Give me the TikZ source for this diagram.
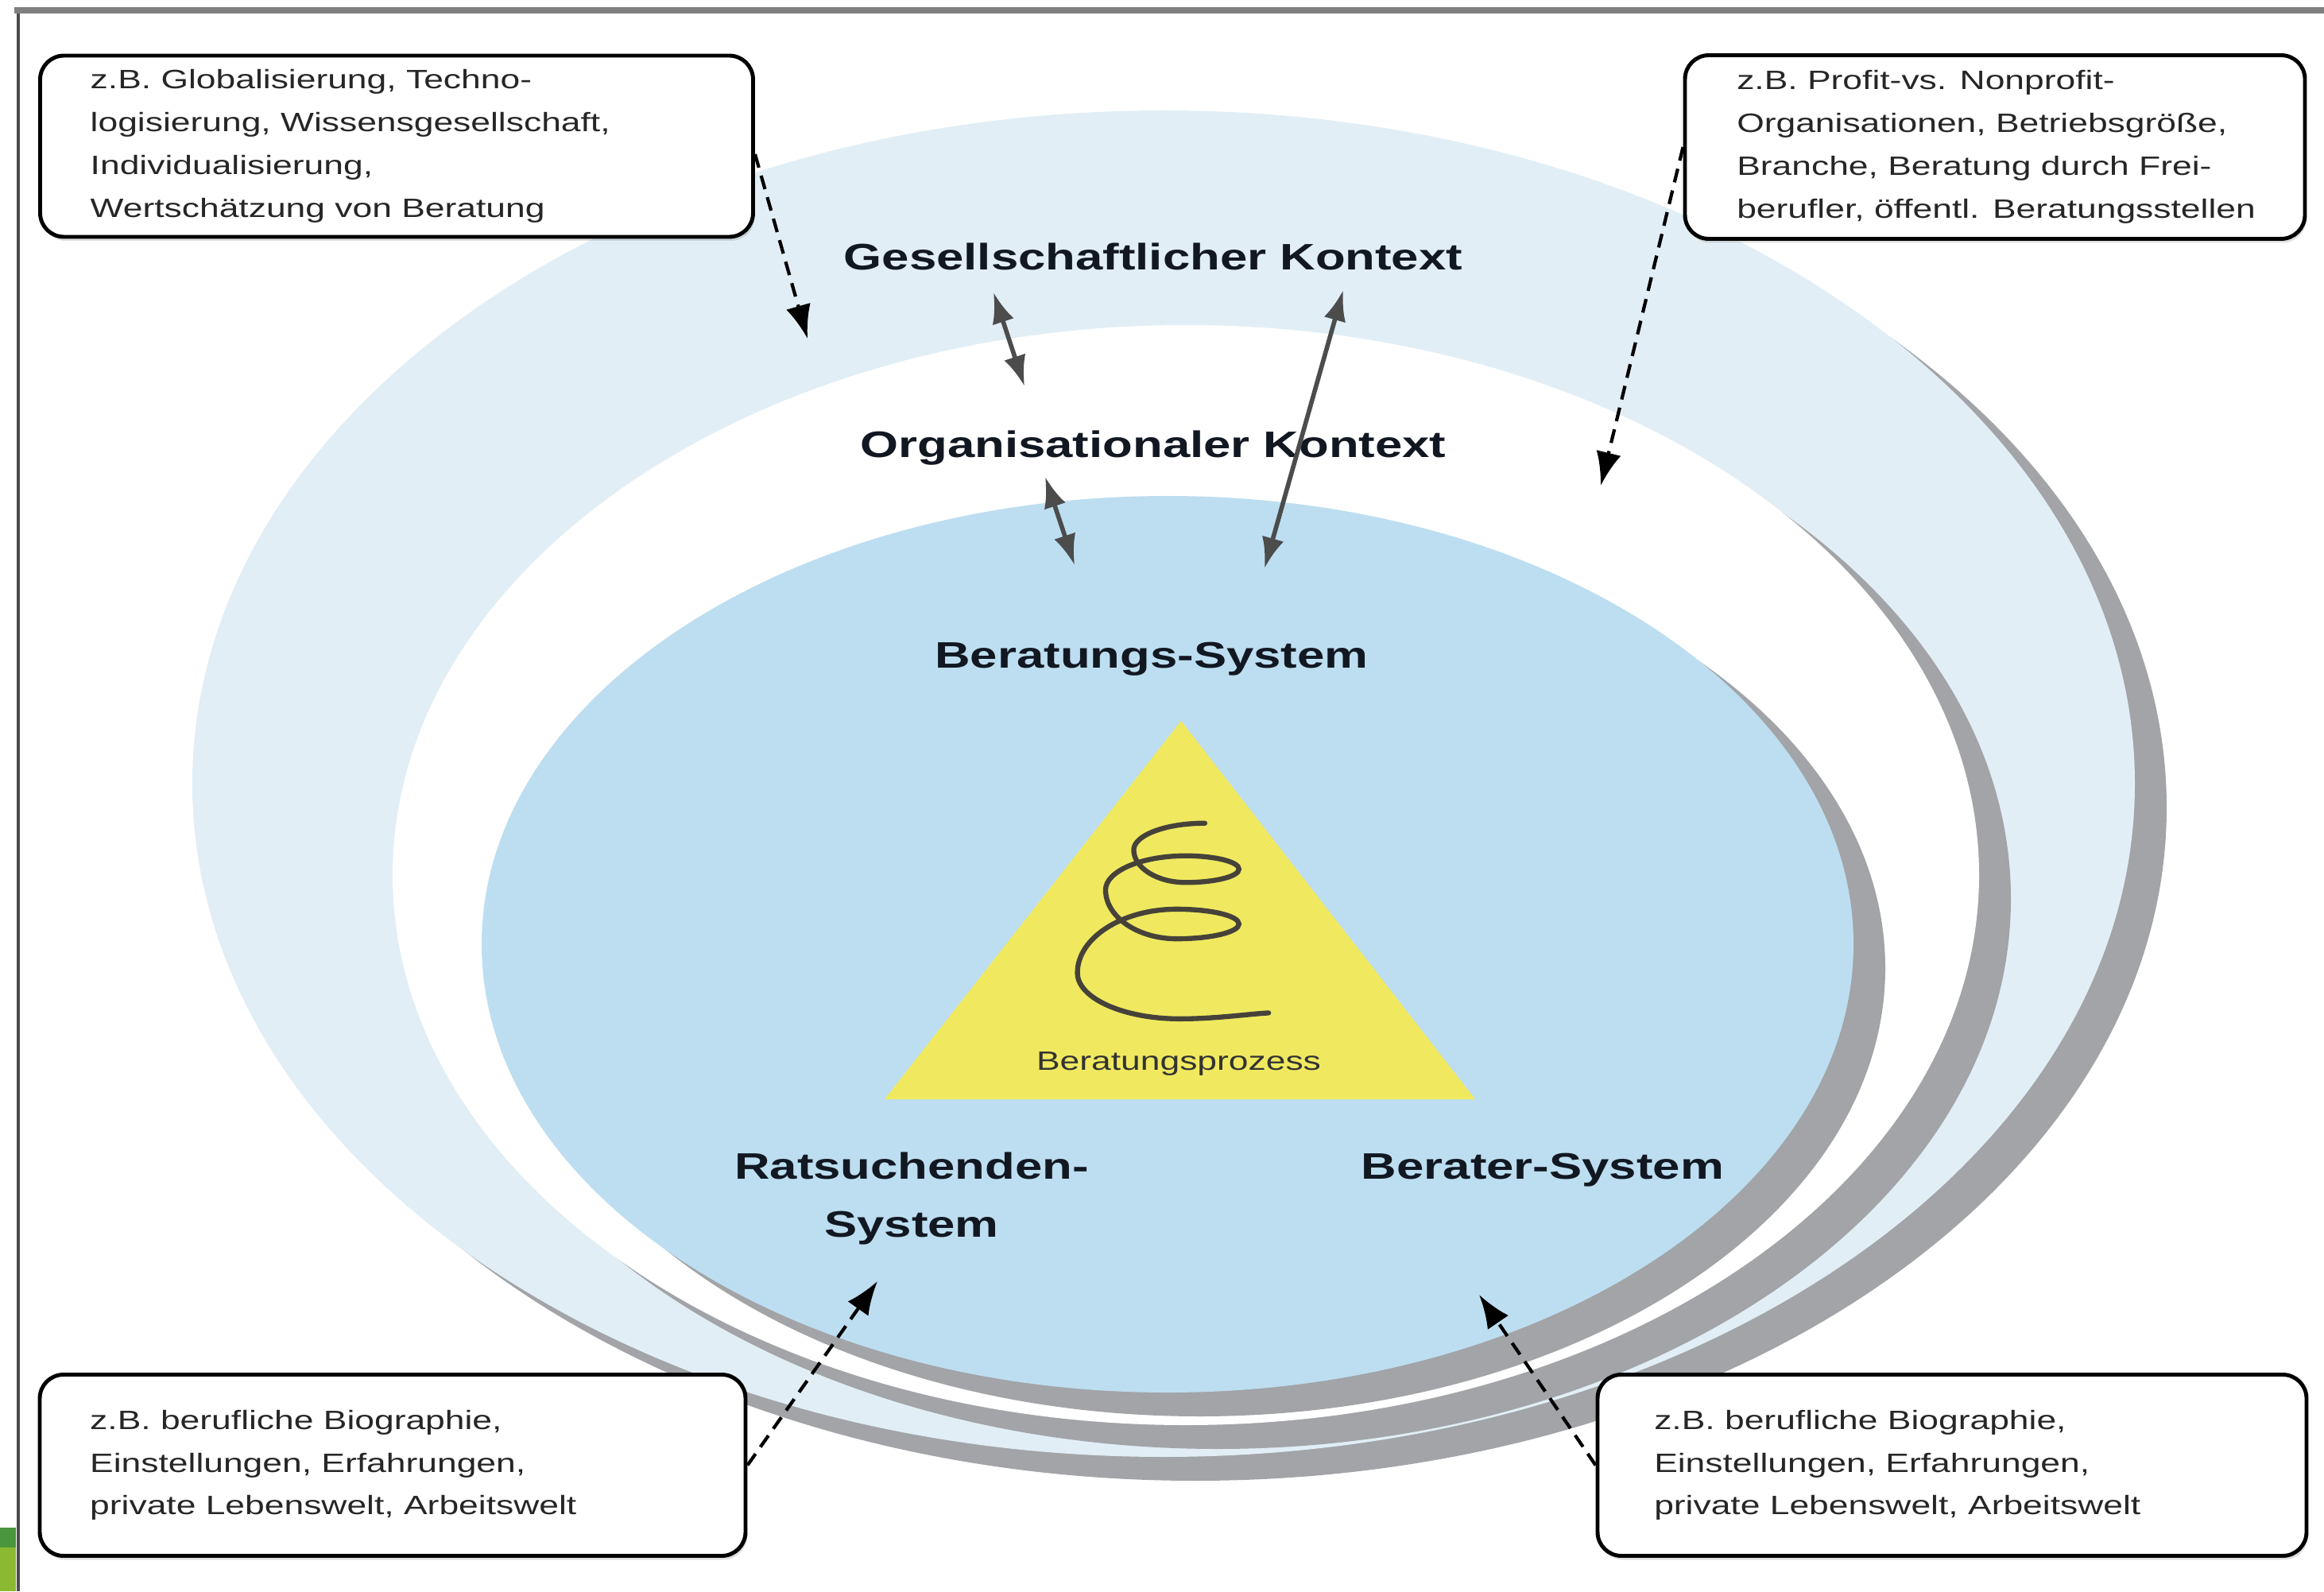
\documentclass[tikz,border=0pt]{standalone}
\usepackage{fontspec}
\setmainfont{Liberation Sans}
\newfontfamily\widesans[FakeStretch=1.33]{Liberation Sans}
\usetikzlibrary{arrows.meta,shadows,positioning,calc}
\definecolor{outerblue}{RGB}{225,238,245}
\definecolor{innerblue}{RGB}{189,222,240}
\definecolor{shadowgray}{RGB}{162,164,167}
\definecolor{prozyellow}{RGB}{240,233,96}
\definecolor{springgray}{RGB}{70,66,58}
\definecolor{labelblack}{RGB}{18,24,34}
\definecolor{darkleaf}{RGB}{74,150,60}
\definecolor{lightleaf}{RGB}{140,185,50}
\begin{document}
\begin{tikzpicture}
[infobox/.style={draw=black,line width=1.4pt,rounded corners=0.3cm,fill=white,
  drop shadow={shadow xshift=0.02cm,shadow yshift=-0.05cm,opacity=0.25}},
boxtext/.style={inner sep=0pt,align=left,text=black!85,
  font=\widesans\fontsize{9.5}{15.3}\selectfont},
%
ctx/.style={font=\widesans\fontsize{13.2}{20.6}\selectfont\bfseries,
  text=labelblack,align=center},
%
biarrow/.style={line width=1.6pt,draw=black!70,
  {Latex[length=11pt,width=8pt]}-{Latex[length=11pt,width=8pt]}},
dasharrow/.style={line width=1.2pt,dash pattern=on 5pt off 3pt,
  -{Latex[length=12pt,width=9pt]}},
spring/.style={line width=1.8pt,draw=springgray,line cap=round}]
%
\useasboundingbox (0,0) rectangle (29.24,20.02);
%% page frame
\fill[darkleaf] (0,0.55) rectangle (0.2,0.8);
\fill[lightleaf] (0,0) rectangle (0.2,0.55);
\draw[line width=1.1pt,black!70] (0.23,0) -- (0.23,19.89);
\draw[line width=2.2pt,black!50] (0.18,19.89) -- (29.24,19.89);
%
%% context ellipses, each with its shadow
\fill[shadowgray] (15.04,9.86) ellipse [x radius=12.22cm,y radius=8.47cm];
\fill[outerblue] (14.64,10.16) ellipse [x radius=12.22cm,y radius=8.47cm];
\fill[shadowgray] (15.32,8.71) ellipse [x radius=9.98cm,y radius=6.92cm];
\fill[white] (14.92,9.01) ellipse [x radius=9.98cm,y radius=6.92cm];
\fill[shadowgray] (15.09,7.84) ellipse [x radius=8.63cm,y radius=5.64cm];
\fill[innerblue] (14.69,8.14) ellipse [x radius=8.63cm,y radius=5.64cm];
%
%% process triangle
\coordinate (apex) at (14.86,10.95);
\coordinate (bl) at (11.13,6.19);
\coordinate (br) at (18.56,6.19);
\fill[prozyellow] (apex) -- (br) -- (bl) -- cycle;
%
\begin{scope}[x=0.01865cm,y=-0.01865cm,yshift=20.03cm]
\draw[spring] (813,556) .. controls (786.6,556) and (765,564.1) .. (765,574)
  .. controls (765,586.1) and (780.75,596) .. (800,596)
  .. controls (819.8,596) and (836,591.95) .. (836,587)
  .. controls (836,582.05) and (819.8,578) .. (800,578)
  .. controls (770.3,578) and (746,588.35) .. (746,601)
  .. controls (746,619.15) and (767.6,634) .. (794,634)
  .. controls (817.1,634) and (836,629.5) .. (836,624)
  .. controls (836,618.5) and (817.1,614) .. (794,614)
  .. controls (757.15,614) and (727,633.35) .. (727,657)
  .. controls (727,674.05) and (758.05,688) .. (796,688)
  .. controls (820,688) and (840,685) .. (856,684);
\end{scope}
\node (proz) [font=\widesans\fontsize{9.5}{12}\selectfont,text=black!80] at (14.83,6.64) {Beratungsprozess};
%
%% labels
\node (gk) [ctx] at (14.51,16.79) {Gesellschaftlicher Kontext};
\node (ok) [ctx] at (14.51,14.38) {Organisationaler Kontext};
\node (bs) [ctx] at (14.49,11.73) {Beratungs-System};
\node (rs) [ctx] at (11.47,4.94) {Ratsuchenden-\\System};
\node (ber) [ctx] at (19.41,5.30) {Berater-System};
%
%% interaction arrows
\coordinate (a1s) at (12.50,16.34);
\coordinate (a1e) at (12.89,15.16);
\coordinate (a2s) at (13.15,14.02);
\coordinate (a2e) at (13.52,12.91);
\coordinate (a3s) at (16.90,16.37);
\coordinate (a3e) at (15.91,12.87);
\draw[biarrow] (a1s) -- (a1e);
\draw[biarrow] (a2s) -- (a2e);
\draw[biarrow] (a3s) -- (a3e);
%
%% example boxes
\node (tlbox) [infobox,minimum width=8.97cm,minimum height=2.28cm] at (4.99,18.18) {};
\node (tltext) [boxtext,right=0.65cm of tlbox.west] {z.B. Globalisierung, Techno-\\logisierung, Wissensgesellschaft,\\Individualisierung,\\Wertschätzung von Beratung};
%
\node (trbox) [infobox,minimum width=7.80cm,minimum height=2.31cm] at (25.10,18.17) {};
\node (trtext) [boxtext,right=0.67cm of trbox.west] {z.B. Profit-vs. Nonprofit-\\Organisationen, Betriebsgröße,\\Branche, Beratung durch Frei-\\berufler, öffentl. Beratungsstellen};
%
\node (blbox) [infobox,minimum width=8.88cm,minimum height=2.28cm] at (4.94,1.585) {};
\node (bltext) [boxtext,right=0.65cm of blbox.west] {z.B. berufliche Biographie,\\Einstellungen, Erfahrungen,\\private Lebenswelt, Arbeitswelt};
%
\node (brbox) [infobox,minimum width=8.92cm,minimum height=2.28cm] at (24.56,1.585) {};
\node (brtext) [boxtext,right=0.73cm of brbox.west] {z.B. berufliche Biographie,\\Einstellungen, Erfahrungen,\\private Lebenswelt, Arbeitswelt};
%
\coordinate (tltip) at (10.16,15.76);
\coordinate (trtip) at (20.14,13.91);
\coordinate (bltip) at (11.04,3.90);
\coordinate (brtip) at (18.61,3.73);
\draw[dasharrow] ($(tlbox.east)+(0,-0.1)$) -- (tltip);
\draw[dasharrow] (trbox.west) -- (trtip);
\draw[dasharrow] (blbox.east) -- (bltip);
\draw[dasharrow] (brbox.west) -- (brtip);
\end{tikzpicture}
\end{document}
